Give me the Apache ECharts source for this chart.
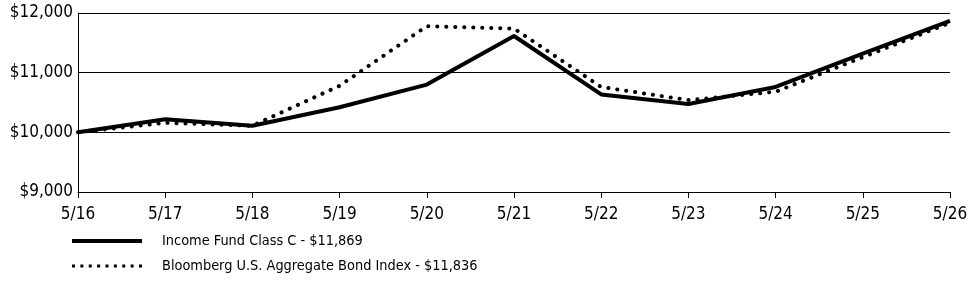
<!DOCTYPE html>
<html lang="en">
<head>
    <meta charset="UTF-8">
    <title>Income Fund Class C</title>
    <script src="https://cdn.jsdelivr.net/npm/echarts@6/dist/echarts.min.js"></script>
    <style>
        html, body { margin: 0; padding: 0; background: #fff; }
    </style>
</head>
<body>
    <div id="chart" style="width: 975px;height: 281px;"></div>
    <script>
        // data
        const categories = ['5/16', '5/17', '5/18', '5/19', '5/20', '5/21', '5/22', '5/23', '5/24', '5/25', '5/26'];
        const fundName = 'Income Fund Class C - $11,869';
        const fundValues = [10000, 10220, 10110, 10420, 10800, 11615, 10635, 10475, 10760, 11320, 11869];
        const indexName = 'Bloomberg U.S. Aggregate Bond Index - $11,836';
        const indexValues = [10000, 10160, 10110, 10780, 11780, 11740, 10760, 10540, 10680, 11260, 11836];
        const yTicks = [9000, 10000, 11000, 12000];

        const axisFont = 'DejaVu Sans Condensed';

        // legend icons: a thick bar and a row of 9 small dots, 70 x 4
        const solidIcon = 'path://M0,0H70V4H0Z';
        let dots = '';
        for (let i = 0; i < 9; i++) {
            const x = i * 8.375;
            dots += 'M' + x + ',0.5h3v3h-3Z';
        }
        const dottedIcon = 'path://M0,0h0.01v0h-0.01Z M69.99,4h0.01v0h-0.01Z' + dots;

        let myChart = echarts.init(document.getElementById('chart'));

        let option = {
            animation: false,
            grid: { left: 78, right: 25, top: 13, bottom: 89 },
            legend: {
                orient: 'vertical',
                left: 72,
                top: 234,
                padding: 0,
                itemWidth: 70,
                itemHeight: 4,
                itemGap: 11,
                textStyle: {
                    fontFamily: axisFont,
                    fontSize: 14.4,
                    color: '#000',
                    padding: [0, 0, 0, 15]
                },
                data: [
                    { name: fundName, icon: solidIcon },
                    { name: indexName, icon: dottedIcon }
                ]
            },
            xAxis: {
                type: 'category',
                data: categories,
                boundaryGap: false,
                axisLine: { lineStyle: { color: '#000', width: 1 } },
                axisTick: { length: 6, lineStyle: { color: '#000' } },
                axisLabel: { color: '#000', fontFamily: axisFont, fontSize: 17, margin: 14 },
                splitLine: { show: false }
            },
            yAxis: {
                type: 'value',
                min: yTicks[0],
                max: yTicks[yTicks.length - 1],
                interval: 1000,
                axisLine: { show: true, lineStyle: { color: '#000', width: 1 } },
                axisTick: { show: false },
                axisLabel: {
                    color: '#000', fontFamily: axisFont, fontSize: 17, margin: 5,
                    formatter: v => '$' + v.toLocaleString('en-US')
                },
                splitLine: { show: true, lineStyle: { color: '#000', width: 1 } }
            },
            series: [{
                name: fundName,
                type: 'line',
                data: fundValues,
                symbol: 'none',
                lineStyle: { color: '#000', width: 4 },
                itemStyle: { color: '#000' },
                z: 3
            }, {
                name: indexName,
                type: 'line',
                data: indexValues,
                symbol: 'none',
                lineStyle: { color: '#000', width: 4, type: [0.1, 8.9], cap: 'round' },
                itemStyle: { color: '#000' },
                z: 2
            }]
        };

        myChart.setOption(option);
    </script>
</body>
</html>
